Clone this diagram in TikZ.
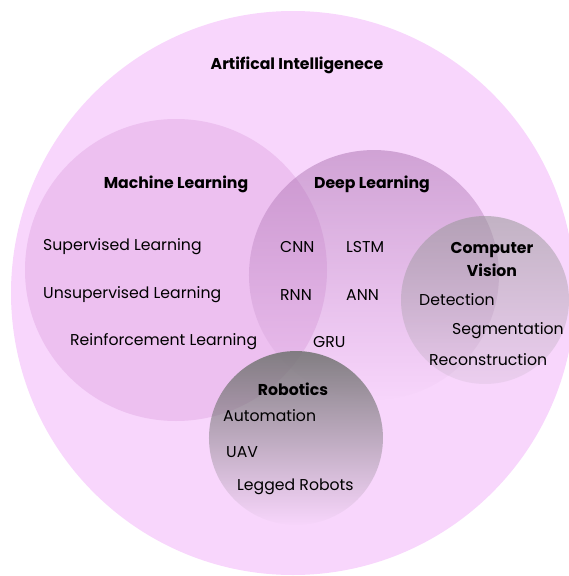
\documentclass[tikz,border=0pt]{standalone}
\usepackage{fontspec}
\setmainfont{Poppins}
\usepackage{xcolor}
\usetikzlibrary{fadings}

\definecolor{aipink}{RGB}{248,214,252}
\definecolor{mlpink}{RGB}{237,192,240}
\definecolor{dlpurple}{RGB}{160,100,166}
\definecolor{cvgray}{RGB}{150,150,150}
\definecolor{robgray}{RGB}{118,118,118}

\tikzfading[name=dlfade, top color=transparent!55, bottom color=transparent!100]
\tikzfading[name=cvfade, top color=transparent!45, bottom color=transparent!88]
\tikzfading[name=robfade, top color=transparent!10, bottom color=transparent!100]

\begin{document}
\begin{tikzpicture}[x=1pt, y=-1pt,
    title/.style={font=\bfseries\fontsize{15.7}{23}\selectfont, align=center, inner sep=0pt},
    item/.style={font=\fontsize{15.7}{19}\selectfont, anchor=west, inner sep=0pt}]
        \useasboundingbox (0,0) rectangle (569,576);

        % Circles
        \begin{scope}
            \clip (0,0) rectangle (569,576);
            \fill[aipink] (293,293) coordinate (ai) circle (282);
        \end{scope}
        \fill[mlpink] (176,270) coordinate (ml) circle (151);
        \fill[dlpurple, path fading=dlfade] (374,275) coordinate (dl) circle (125);
        \fill[cvgray, path fading=cvfade] (485,300) coordinate (cv) circle (84);
        \fill[robgray, path fading=robfade] (296,438) coordinate (rob) circle (87);

        % Titles
        \node[title] (ai_title) at (297,65) {Artifical Intelligenece};
        \node[title] (ml_title) at (176,184) {Machine Learning};
        \node[title] (dl_title) at (372,184) {Deep Learning};
        \node[title] (cv_title) at (492,259) {Computer\\Vision};
        \node[title] (rob_title) at (293,389) {Robotics};

        % Machine learning
        \node[item] (sup) at (43,247) {Supervised Learning};
        \node[item] (unsup) at (43,295) {Unsupervised Learning};
        \node[item] (reinf) at (70,342) {Reinforcement Learning};

        % Deep learning
        \node[item] (cnn) at (280,247) {CNN};
        \node[item] (lstm) at (346,247) {LSTM};
        \node[item] (rnn) at (280,295) {RNN};
        \node[item] (ann) at (346,295) {ANN};
        \node[item] (gru) at (313,342) {GRU};

        % Computer vision
        \node[item] (det) at (419,300) {Detection};
        \node[item] (seg) at (452,331) {Segmentation};
        \node[item] (rec) at (429,360) {Reconstruction};

        % Robotics
        \node[item] (auto) at (223,416) {Automation};
        \node[item] (uav) at (226,452) {UAV};
        \node[item] (legged) at (237,487) {Legged Robots};
    \end{tikzpicture}
\end{document}
